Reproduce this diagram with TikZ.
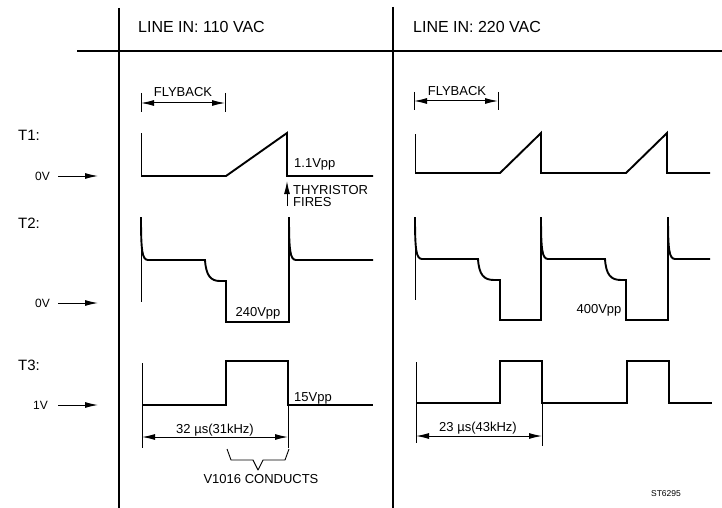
\documentclass[tikz,border=0pt]{standalone}
\usepackage{fontspec}
\setmainfont{Liberation Sans}
\usetikzlibrary{arrows.meta}
\begin{document}
\begin{tikzpicture}[x=1pt,y=-1pt,
  frameline/.style={line width=1.5pt},
  wave/.style={line width=1.9pt, line join=miter},
  edgeline/.style={line width=0.9pt},
  dimline/.style={line width=1pt,{Latex[length=13pt,width=6pt]}-{Latex[length=13pt,width=6pt]}},
  levarrow/.style={line width=1pt,-{Latex[length=13pt,width=6pt]}},
  head/.style={font=\fontsize{16}{18}\selectfont, anchor=west, inner sep=0pt},
  tlabel/.style={font=\fontsize{15}{17}\selectfont, anchor=west, inner sep=0pt},
  lbl/.style={font=\fontsize{13}{14}\selectfont, inner sep=0pt},
  lvl/.style={font=\fontsize{12}{13}\selectfont, anchor=east, inner sep=0pt},
]
\useasboundingbox (0,0) rectangle (722,508);
\fill[white] (0,0) rectangle (722,508);

% frame
\draw[frameline] (119,8) -- (119,508);
\draw[frameline] (393,7) -- (393,508);
\draw[frameline] (77,51) -- (722,51);

% headers
\node[head] (h1) at (138,27) {LINE IN: 110 VAC};
\node[head] (h2) at (413,27) {LINE IN: 220 VAC};

% row labels
\node[tlabel] (t1) at (18,135) {T1:};
\node[tlabel] (t2) at (18,223) {T2:};
\node[tlabel] (t3) at (18,365) {T3:};
\node[lvl] (z1) at (50,176) {0V};
\node[lvl] (z2) at (50,303) {0V};
\node[lvl] (o3) at (48,405) {1V};
\coordinate (z1e) at (98,176);
\coordinate (z2e) at (98,303);
\coordinate (o3e) at (98,405);
\draw[levarrow] ([xshift=8pt]z1.east) -- (z1e);
\draw[levarrow] ([xshift=8pt]z2.east) -- (z2e);
\draw[levarrow] ([xshift=10pt]o3.east) -- (o3e);

% flyback left
\draw[edgeline] (141,93) -- (141,112);
\draw[edgeline] (225,93) -- (225,112);
\draw[dimline] (141,103) -- (225,103);
\node[lbl] (fb1) at (183,92) {FLYBACK};
% flyback right
\draw[edgeline] (414,92) -- (414,110);
\draw[edgeline] (498,92) -- (498,110);
\draw[dimline] (414,101) -- (498,101);
\node[lbl] (fb2) at (457,91) {FLYBACK};

% ---------- left column ----------
% T1
\draw[edgeline] (141,133) -- (141,176);
\draw[wave] (141,176) -- (226,176) -- (287,133) -- (287,176) -- (373,176);
\node[lbl,anchor=west] (v11) at (294,164) {1.1Vpp};
\coordinate (thtip) at (287,181);
\coordinate (thbase) at (287,206);
\draw[levarrow] (thbase) -- (thtip);
\node[lbl,anchor=west] (th1) at (293,190) {THYRISTOR};
\node[lbl,anchor=west] (th2) at (293,202) {FIRES};

% T2
\draw[edgeline] (141,217) -- (141,302);
\draw[wave] (141,217) .. controls (141,250) and (142,260) .. (148,260) -- (205,260)
  .. controls (206,276) and (211,281) .. (220,281) -- (226,281) -- (226,322) -- (289,322)
  -- (289,217) .. controls (289,250) and (290,260) .. (296,260) -- (373,260);
\node[lbl] (v240) at (258,313) {240Vpp};

% T3
\draw[edgeline] (142,363) -- (142,448);
\draw[wave] (142,405) -- (226,405) -- (226,361) -- (288,361) -- (288,405) -- (373,405);
\draw[edgeline] (288,405) -- (288,448);
\draw[dimline] (142,437) -- (288,437);
\node[lbl] (p32) at (215,430) {32 µs(31kHz)};
\node[lbl,anchor=west] (v15) at (294,398) {15Vpp};
\draw[edgeline, line join=round] (227,449) -- (231,460) -- (253,460) -- (258,470) -- (263,460) -- (285,460) -- (289,449);
\node[lbl] (cond) at (261,479) {V1016 CONDUCTS};

% ---------- right column ----------
% T1
\draw[edgeline] (415,134) -- (415,173);
\draw[wave] (415,173) -- (500,173) -- (541,133) -- (541,173) -- (626,173) -- (667,133) -- (667,173) -- (710,173);

% T2
\draw[edgeline] (415,217) -- (415,300);
\draw[wave] (415,217) .. controls (415,249) and (416,259) .. (422,259) -- (478,259)
  .. controls (479,275) and (484,280) .. (494,280) -- (500,280) -- (500,320) -- (541,320)
  -- (541,217) .. controls (541,249) and (542,259) .. (548,259) -- (605,259)
  .. controls (606,275) and (611,280) .. (621,280) -- (626,280) -- (626,320) -- (668,320)
  -- (668,217) .. controls (668,249) and (669,259) .. (675,259) -- (710,259);
\node[lbl] (v400) at (599,310) {400Vpp};

% T3
\draw[edgeline] (416,362) -- (416,443);
\draw[wave] (416,403) -- (500,403) -- (500,361) -- (542,361) -- (542,403) -- (627,403)
  -- (627,361) -- (669,361) -- (669,403) -- (712,403);
\draw[edgeline] (542,403) -- (542,446);
\draw[dimline] (416,436) -- (542,436);
\node[lbl] (p23) at (478,428) {23 µs(43kHz)};

\node[font=\fontsize{8.5}{9}\selectfont, inner sep=0pt] (st) at (666,494) {ST6295};
\end{tikzpicture}
\end{document}
